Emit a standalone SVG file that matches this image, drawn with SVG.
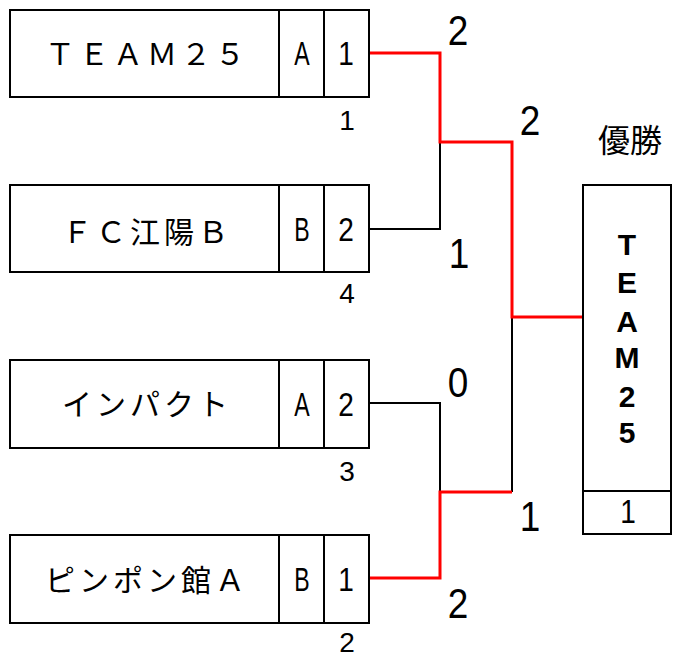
<svg xmlns="http://www.w3.org/2000/svg" width="673" height="657" viewBox="0 0 673 657">
<style>
.box{fill:#fff;stroke:#000;stroke-width:2}
.ln{fill:none;stroke:#000;stroke-width:2}
.red{fill:none;stroke:#f00;stroke-width:3}
.name{font-family:"Noto Sans CJK JP","Liberation Sans",sans-serif;font-size:30px;letter-spacing:4px;text-anchor:middle;fill:#000}
.cell{font-family:"Liberation Sans","DejaVu Sans",sans-serif;font-size:33px;text-anchor:middle;fill:#000}
.seed{font-family:"Liberation Sans","DejaVu Sans",sans-serif;font-size:28px;text-anchor:middle;fill:#000}
.score{font-family:"Liberation Sans","DejaVu Sans",sans-serif;font-size:42px;text-anchor:middle;fill:#000}
.champ{font-family:"Liberation Sans","DejaVu Sans",sans-serif;font-size:30px;font-weight:bold;text-anchor:middle;fill:#000}
.title{font-family:"Noto Sans CJK JP",sans-serif;font-size:32px;text-anchor:middle;fill:#000}
</style>
<rect width="673" height="657" fill="#fff"/>
<g id="connectors">
<polyline class="ln" points="369,229 440,229 440,142"/>
<polyline class="ln" points="369,403 440,403 440,492"/>
<polyline class="ln" points="512,492 512,317"/>
<polyline class="red" points="369,53 440,53 440,142 512,142 512,317 583,317"/>
<polyline class="red" points="369,578 440,578 440,492 512,492"/>
</g>
<g id="team1">
<rect class="box" x="10" y="10" width="359" height="87"/>
<line class="ln" x1="279" y1="10" x2="279" y2="97"/>
<line class="ln" x1="324" y1="10" x2="324" y2="97"/>
<text class="name" x="147" y="65">ＴＥＡＭ２５</text>
<text class="cell" transform="translate(302,65) scale(0.7,1)">A</text>
<text class="cell" transform="translate(346,65) scale(0.85,1)">1</text>
<text class="seed" x="347" y="130">1</text>
</g>
<g id="team2">
<rect class="box" x="10" y="185" width="359" height="87"/>
<line class="ln" x1="279" y1="185" x2="279" y2="272"/>
<line class="ln" x1="324" y1="185" x2="324" y2="272"/>
<text class="name" x="147" y="243">ＦＣ江陽Ｂ</text>
<text class="cell" transform="translate(302,241) scale(0.7,1)">B</text>
<text class="cell" transform="translate(346,241) scale(0.85,1)">2</text>
<text class="seed" x="347" y="303">4</text>
</g>
<g id="team3">
<rect class="box" x="10" y="360" width="359" height="88"/>
<line class="ln" x1="279" y1="360" x2="279" y2="448"/>
<line class="ln" x1="324" y1="360" x2="324" y2="448"/>
<text class="name" x="147" y="415">インパクト</text>
<text class="cell" transform="translate(302,416) scale(0.7,1)">A</text>
<text class="cell" transform="translate(346,416) scale(0.85,1)">2</text>
<text class="seed" x="347" y="481">3</text>
</g>
<g id="team4">
<rect class="box" x="10" y="535" width="359" height="88"/>
<line class="ln" x1="279" y1="535" x2="279" y2="623"/>
<line class="ln" x1="324" y1="535" x2="324" y2="623"/>
<text class="name" x="147" y="591">ピンポン館Ａ</text>
<text class="cell" transform="translate(302,591) scale(0.7,1)">B</text>
<text class="cell" transform="translate(346,591) scale(0.85,1)">1</text>
<text class="seed" x="347" y="652">2</text>
</g>
<g id="scores">
<text class="score" transform="translate(458,45) scale(0.88,1)">2</text>
<text class="score" transform="translate(459,268) scale(0.88,1)">1</text>
<text class="score" transform="translate(530,135) scale(0.88,1)">2</text>
<text class="score" transform="translate(458,397) scale(0.88,1)">0</text>
<text class="score" transform="translate(530,531) scale(0.88,1)">1</text>
<text class="score" transform="translate(458,618) scale(0.88,1)">2</text>
</g>
<g id="champion">
<text class="title" x="630" y="152">優勝</text>
<rect class="box" x="583" y="185" width="88" height="349"/>
<line class="ln" x1="583" y1="491" x2="671" y2="491"/>
<text class="champ" x="627" y="255">T</text>
<text class="champ" x="627" y="293">E</text>
<text class="champ" x="627" y="332">A</text>
<text class="champ" x="627" y="368">M</text>
<text class="champ" x="627" y="407">2</text>
<text class="champ" x="627" y="443">5</text>
<text class="cell" transform="translate(628,523) scale(0.85,1)">1</text>
</g>
</svg>
